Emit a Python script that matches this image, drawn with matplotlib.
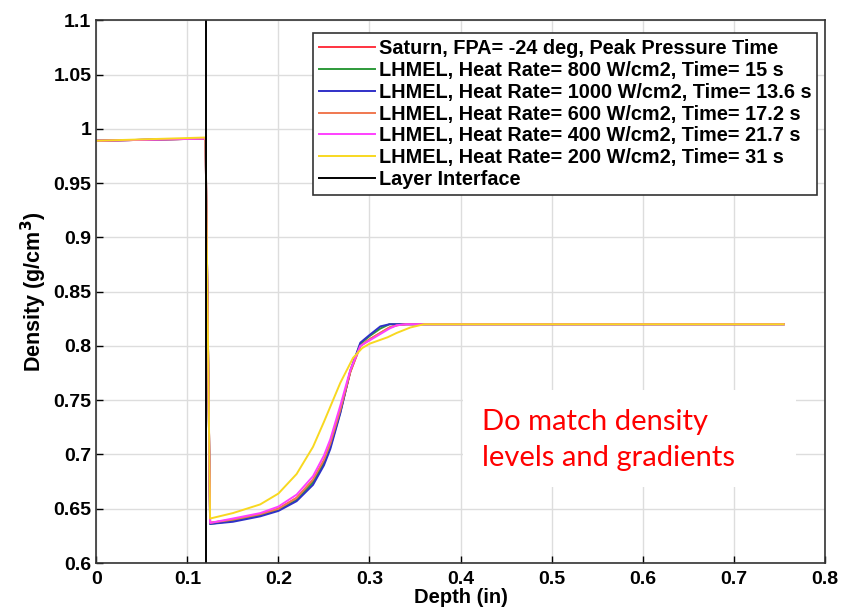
import numpy as np
import matplotlib.pyplot as plt
from matplotlib.patches import Rectangle

plt.rcParams['font.family'] = ['Liberation Sans', 'DejaVu Sans']

# depth (in) and density (g/cm3)
depth = [0.0, 0.12, 0.125, 0.15, 0.18, 0.20, 0.22, 0.238, 0.25, 0.257, 0.268,
         0.279, 0.29, 0.30, 0.312, 0.322, 0.33, 0.34, 0.755]

saturn = [0.989, 0.991, 0.637, 0.640, 0.645, 0.650, 0.660, 0.676, 0.694, 0.709, 0.740,
          0.776, 0.800, 0.806, 0.812, 0.817, 0.819, 0.820, 0.820]
lh800 = [0.989, 0.991, 0.636, 0.639, 0.644, 0.649, 0.658, 0.674, 0.692, 0.707, 0.739,
         0.777, 0.802, 0.809, 0.816, 0.820, 0.820, 0.820, 0.820]
lh1000 = [0.989, 0.991, 0.636, 0.638, 0.643, 0.648, 0.657, 0.672, 0.690, 0.705, 0.738,
          0.777, 0.803, 0.810, 0.818, 0.820, 0.820, 0.820, 0.820]
lh600 = [0.989, 0.991, 0.637, 0.640, 0.645, 0.650, 0.660, 0.677, 0.695, 0.710, 0.741,
         0.776, 0.800, 0.806, 0.812, 0.817, 0.819, 0.820, 0.820]
lh400 = [0.989, 0.991, 0.637, 0.641, 0.646, 0.652, 0.663, 0.680, 0.699, 0.714, 0.745,
         0.778, 0.800, 0.805, 0.811, 0.816, 0.819, 0.820, 0.820]

depth200 = [0.0, 0.12, 0.125, 0.15, 0.18, 0.20, 0.22, 0.238, 0.25, 0.257, 0.268,
            0.282, 0.292, 0.30, 0.31, 0.32, 0.33, 0.345, 0.36, 0.755]
lh200 = [0.989, 0.992, 0.641, 0.646, 0.654, 0.664, 0.682, 0.707, 0.730, 0.744, 0.766,
         0.789, 0.798, 0.802, 0.805, 0.808, 0.812, 0.817, 0.820, 0.820]

interface_x = [0.12, 0.12]
interface_y = [0.6, 1.1]

xticks = [0, 0.1, 0.2, 0.3, 0.4, 0.5, 0.6, 0.7, 0.8]
xticklabels = ['0', '0.1', '0.2', '0.3', '0.4', '0.5', '0.6', '0.7', '0.8']
yticks = [0.6, 0.65, 0.7, 0.75, 0.8, 0.85, 0.9, 0.95, 1.0, 1.05, 1.1]
yticklabels = ['0.6', '0.65', '0.7', '0.75', '0.8', '0.85', '0.9', '0.95', '1', '1.05', '1.1']

fig = plt.figure(figsize=(8.52, 6.14), dpi=100)
ax = fig.add_axes([0.113, 0.083, 0.855, 0.884])

ax.plot(depth, saturn, color='#ff3340', lw=1.4, label='Saturn, FPA= -24 deg, Peak Pressure Time')
ax.plot(depth, lh800, color='#2e9a3a', lw=1.4, label='LHMEL, Heat Rate= 800 W/cm2, Time= 15 s')
ax.plot(depth, lh1000, color='#3030c8', lw=1.4, label='LHMEL, Heat Rate= 1000 W/cm2, Time= 13.6 s')
ax.plot(depth, lh600, color='#f07850', lw=1.4, label='LHMEL, Heat Rate= 600 W/cm2, Time= 17.2 s')
ax.plot(depth, lh400, color='#ff40ff', lw=1.4, label='LHMEL, Heat Rate= 400 W/cm2, Time= 21.7 s')
ax.plot(depth200, lh200, color='#f8d820', lw=1.4, label='LHMEL, Heat Rate= 200 W/cm2, Time= 31 s')
ax.plot(interface_x, interface_y, color='black', lw=1.4, label='Layer Interface')

ax.set_xlim(0, 0.8)
ax.set_ylim(0.6, 1.1)
ax.set_xticks(xticks)
ax.set_xticklabels(xticklabels, fontsize=14, fontweight='bold')
ax.set_yticks(yticks)
ax.set_yticklabels(yticklabels, fontsize=14, fontweight='bold')
ax.tick_params(direction='in', length=5, width=1)
ax.tick_params(axis='x', pad=6)
ax.grid(True, color='#dddddd', lw=1)
ax.set_axisbelow(True)
for s in ax.spines.values():
    s.set_linewidth(1.2)
    s.set_color('#333333')

ax.set_xlabel('Depth (in)', fontsize=14.5, fontweight='bold', labelpad=0)
ax.set_ylabel('Density (g/cm$^\\mathbf{3}$)', fontsize=15.5, fontweight='bold', labelpad=3)

leg = ax.legend(loc='upper right', bbox_to_anchor=(0.990, 0.976),
                prop={'weight': 'bold', 'size': 14.3}, fancybox=False, framealpha=1,
                edgecolor='#333333', handlelength=2.8, handletextpad=0.2,
                labelspacing=0.14, borderpad=0.3, borderaxespad=0)
leg.get_frame().set_linewidth(1.2)

# white box pasted over the plot, then the red note
ax.add_patch(Rectangle((0.504, 0.14), 0.457, 0.178, transform=ax.transAxes,
                       facecolor='white', edgecolor='none', zorder=1.5))
ax.text(0.5295, 0.283, 'Do match density\nlevels and gradients', transform=ax.transAxes,
        color='#ff0000', fontsize=21, family=['Lato', 'DejaVu Sans'],
        va='top', ha='left', linespacing=1.45, zorder=5)

fig.savefig('out.png', dpi=100)
